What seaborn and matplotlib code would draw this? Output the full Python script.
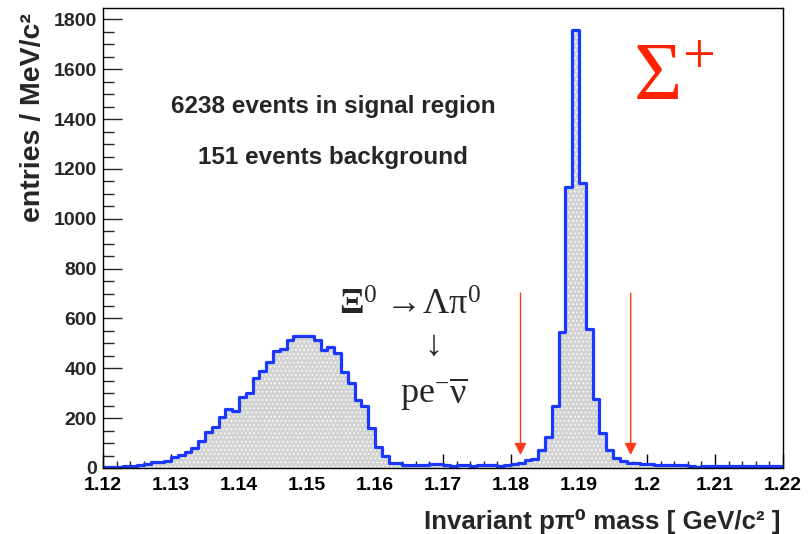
import numpy as np
import pandas as pd
import matplotlib
matplotlib.use("Agg")
import matplotlib.pyplot as plt
from matplotlib.ticker import MultipleLocator, FuncFormatter
import seaborn as sns

# ---- data ----
bin_lo, bin_hi, n_bins = 1.12, 1.22, 100
counts = [
    5, 6, 6, 7, 8, 11, 17, 24, 26, 29,
    45, 52, 64, 80, 107, 144, 163, 206, 235, 229,
    286, 302, 361, 390, 425, 471, 477, 513, 531, 531,
    531, 513, 473, 484, 460, 386, 340, 273, 250, 162,
    86, 48, 21, 21, 12, 13, 12, 14, 15, 16,
    11, 10, 11, 12, 10, 11, 12, 11, 10, 12,
    15, 22, 32, 35, 72, 126, 249, 547, 1128, 1756,
    1142, 557, 275, 142, 72, 41, 27, 21, 21, 18,
    16, 14, 13, 12, 11, 11, 9, 4, 8, 8,
    9, 9, 10, 9, 9, 10, 9, 9, 10, 9,
]
cut_positions = [1.1814, 1.1976]
text_line1 = "6238 events in signal region"
text_line2 = "151 events background"
xlabel = "Invariant p\u03c0\u2070 mass [ GeV/c\u00b2 ]"
ylabel = "entries / MeV/c\u00b2"

edges = np.linspace(bin_lo, bin_hi, n_bins + 1)
centers = 0.5 * (edges[:-1] + edges[1:])
df = pd.DataFrame({"mass": centers, "entries": counts})

sns.set_theme(style="white")
plt.rcParams["font.family"] = ["Liberation Sans", "DejaVu Sans"]
plt.rcParams["mathtext.fontset"] = "custom"
plt.rcParams["mathtext.rm"] = "Liberation Serif"
plt.rcParams["mathtext.it"] = "Liberation Serif:italic"
plt.rcParams["mathtext.bf"] = "Liberation Serif:bold"
plt.rcParams["mathtext.fallback"] = "stix"
plt.rcParams["hatch.linewidth"] = 0.6
serif = ["Liberation Serif", "DejaVu Serif"]

fig = plt.figure(figsize=(8.08, 5.34), dpi=100)
ax = fig.add_axes([103 / 808, 1 - 468 / 534, 680 / 808, 460.5 / 534])

# filled area with ROOT-like dotted pattern
sns.histplot(data=df, x="mass", weights="entries", bins=n_bins,
             binrange=(bin_lo, bin_hi), element="step", fill=True,
             color="#d3d3d3", alpha=1, linewidth=0, edgecolor="white",
             hatch="....", ax=ax)
# outline
sns.histplot(data=df, x="mass", weights="entries", bins=n_bins,
             binrange=(bin_lo, bin_hi), element="step", fill=False,
             color="#1a38ff", linewidth=2.3, ax=ax)

ax.set_xlim(bin_lo, bin_hi)
ax.set_ylim(0, 1848)

# ticks
ax.xaxis.set_major_locator(MultipleLocator(0.01))
ax.xaxis.set_minor_locator(MultipleLocator(0.002))
ax.yaxis.set_major_locator(MultipleLocator(200))
ax.yaxis.set_minor_locator(MultipleLocator(50))
ax.xaxis.set_major_formatter(FuncFormatter(lambda v, p: f"{v:g}"))
ax.yaxis.set_major_formatter(FuncFormatter(lambda v, p: f"{v:.0f}"))
ax.tick_params(axis="x", which="major", direction="in", length=10, width=1,
               labelsize=14, pad=6.5, bottom=True, top=False, colors="black")
ax.tick_params(axis="x", which="minor", direction="in", length=5, width=1,
               bottom=True, top=False)
ax.tick_params(axis="y", which="major", direction="in", length=14, width=1,
               labelsize=14, pad=4.5, left=True, right=False)
ax.tick_params(axis="y", which="minor", direction="in", length=8, width=1,
               left=True, right=False)
for lab in ax.get_xticklabels() + ax.get_yticklabels():
    lab.set_fontweight("bold")
for sp in ax.spines.values():
    sp.set_color("black")
    sp.set_linewidth(1.0)

ax.set_xlabel(xlabel, fontsize=18.6, fontweight="bold")
ax.xaxis.label.set_ha("right")
ax.xaxis.label.set_va("center")
ax.xaxis.set_label_coords((780 - 103) / 680, -(521 - 468) / 460.5)
ax.set_ylabel(ylabel, fontsize=20.5, fontweight="bold")
ax.yaxis.label.set_ha("right")
ax.yaxis.label.set_va("center")
ax.yaxis.set_label_coords(-(103 - 33) / 680, (468 - 13) / 460.5)

# annotations
ax.text(1.15382, 1452, text_line1, fontsize=17.5, fontweight="bold",
        ha="center", va="center")
ax.text(1.15382, 1247, text_line2, fontsize=17.5, fontweight="bold",
        ha="center", va="center")
ax.text(1.1979, 1476, r"$\mathrm{\Sigma^{+}}$", fontsize=60, color="#ff2200",
        ha="left", va="baseline")
ax.text(1.1651, 613,
        r"$\mathbf{\Xi}^{\mathrm{0}}\;\!\mathrm{\rightarrow\!\Lambda\pi^{0}}$",
        fontsize=26, ha="center", va="baseline")
ax.text(1.1685, 489, "\u2193", family=serif, fontsize=26,
        ha="center", va="center")
ax.text(1.1687, 261, r"$\mathrm{pe^{-}\overline{\nu}}$", fontsize=26,
        ha="center", va="baseline")

for xc in cut_positions:
    ax.annotate("", xy=(xc, 52), xytext=(xc, 702),
                arrowprops=dict(arrowstyle="-|>,head_length=0.4,head_width=0.2",
                                color="#ff3a1a", lw=1.0, mutation_scale=18,
                                shrinkA=0, shrinkB=0))

fig.savefig("out.png", dpi=100)
